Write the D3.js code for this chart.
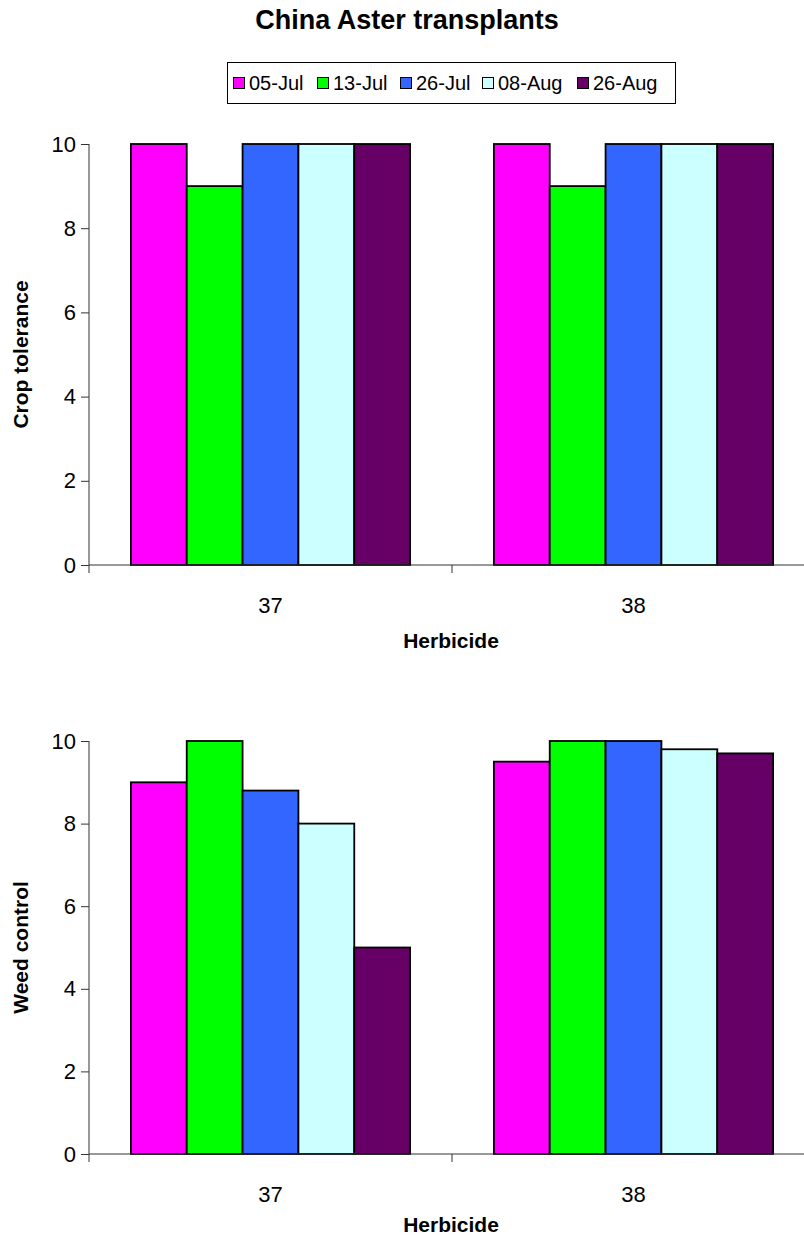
<!DOCTYPE html>
<html>
<head>
<meta charset="utf-8">
<script src="https://cdn.jsdelivr.net/npm/d3@7"></script>
<style>
  body { margin: 0; background: #fff; }
  text { font-family: "Liberation Sans", Arial, sans-serif; }
</style>
</head>
<body>
<div id="chart"></div>
<script>
// data
var herbicides = ['37', '38'];
var dates = ['05-Jul', '13-Jul', '26-Jul', '08-Aug', '26-Aug'];
var colors = ['#FF00FF', '#00FF00', '#3366FF', '#CCFFFF', '#660066'];
var cropTolerance = [
  [10, 9, 10, 10, 10],
  [10, 9, 10, 10, 10]
];
var weedControl = [
  [9, 10, 8.8, 8, 5],
  [9.5, 10, 10, 9.8, 9.7]
];
var yTicks = [0, 2, 4, 6, 8, 10];

var W = 804, H = 1237;
var svg = d3.select('#chart').append('svg')
  .attr('width', W)
  .attr('height', H);

// title
svg.append('text')
  .attr('x', 407).attr('y', 29)
  .attr('text-anchor', 'middle')
  .style('font-size', '27px')
  .style('font-weight', 'bold')
  .text('China Aster transplants');

// legend
var legend = svg.append('g');
legend.append('rect')
  .attr('x', 227.5).attr('y', 62.5)
  .attr('width', 448).attr('height', 41)
  .attr('fill', '#fff').attr('stroke', '#000').attr('stroke-width', 1);
var legendX = [233, 317, 400, 482, 577];
dates.forEach(function(d, i) {
  legend.append('rect')
    .attr('x', legendX[i] + 0.5).attr('y', 77.5)
    .attr('width', 11).attr('height', 11)
    .attr('fill', colors[i]).attr('stroke', '#000');
  legend.append('text')
    .attr('x', legendX[i] + 16).attr('y', 90)
    .style('font-size', '20px')
    .text(d);
});

function drawPanel(values, top, bottom, yLabel, titleGap) {
  var left = 89, right = 815;
  var g = svg.append('g');

  var y = d3.scaleLinear().domain([0, 10]).range([bottom, top]);
  var x0 = d3.scaleBand().domain(herbicides).range([left, right]);
  var bw = x0.bandwidth();
  var barW = bw / 6.5;
  var x1 = d3.scaleBand().domain(dates)
    .range([barW * 0.75, bw - barW * 0.75]);

  // bars
  herbicides.forEach(function(h, hi) {
    g.selectAll('rect.b' + hi)
      .data(values[hi])
      .enter().append('rect')
      .attr('x', function(d, i) { return x0(h) + x1(dates[i]); })
      .attr('y', function(d) { return y(d); })
      .attr('width', x1.bandwidth())
      .attr('height', function(d) { return y(0) - y(d); })
      .attr('fill', function(d, i) { return colors[i]; })
      .attr('stroke', '#000')
      .attr('stroke-width', 1.8);
  });

  // y axis
  var yAxis = d3.axisLeft(y).tickValues(yTicks).tickSize(8).tickPadding(5);
  var ya = g.append('g')
    .attr('transform', 'translate(' + left + ',0)')
    .call(yAxis);
  ya.select('.domain').remove();
  ya.append('line')
    .attr('x1', 0).attr('x2', 0)
    .attr('y1', top).attr('y2', bottom + 8)
    .attr('stroke', '#333');
  ya.selectAll('.tick line').attr('stroke', '#333');
  ya.selectAll('.tick text')
    .attr('fill', '#000')
    .style('font-size', '22px')
    .style('font-family', '"Liberation Sans", Arial, sans-serif');

  // x axis
  g.append('line')
    .attr('x1', left).attr('x2', right)
    .attr('y1', bottom).attr('y2', bottom)
    .attr('stroke', '#333');
  g.append('line')
    .attr('x1', x0('38')).attr('x2', x0('38'))
    .attr('y1', bottom).attr('y2', bottom + 8)
    .attr('stroke', '#333');
  herbicides.forEach(function(h) {
    g.append('text')
      .attr('x', x0(h) + bw / 2).attr('y', bottom + 48)
      .attr('text-anchor', 'middle')
      .style('font-size', '22px')
      .text(h);
  });

  g.append('text')
    .attr('x', 451).attr('y', bottom + titleGap)
    .attr('text-anchor', 'middle')
    .style('font-size', '21px')
    .style('font-weight', 'bold')
    .text('Herbicide');

  g.append('text')
    .attr('transform', 'translate(28,' + ((top + bottom) / 2) + ') rotate(-90)')
    .attr('text-anchor', 'middle')
    .style('font-size', '21px')
    .style('font-weight', 'bold')
    .text(yLabel);
}

drawPanel(cropTolerance, 144, 565, 'Crop tolerance', 83);
drawPanel(weedControl, 741, 1154, 'Weed control', 78);
</script>
</body>
</html>
